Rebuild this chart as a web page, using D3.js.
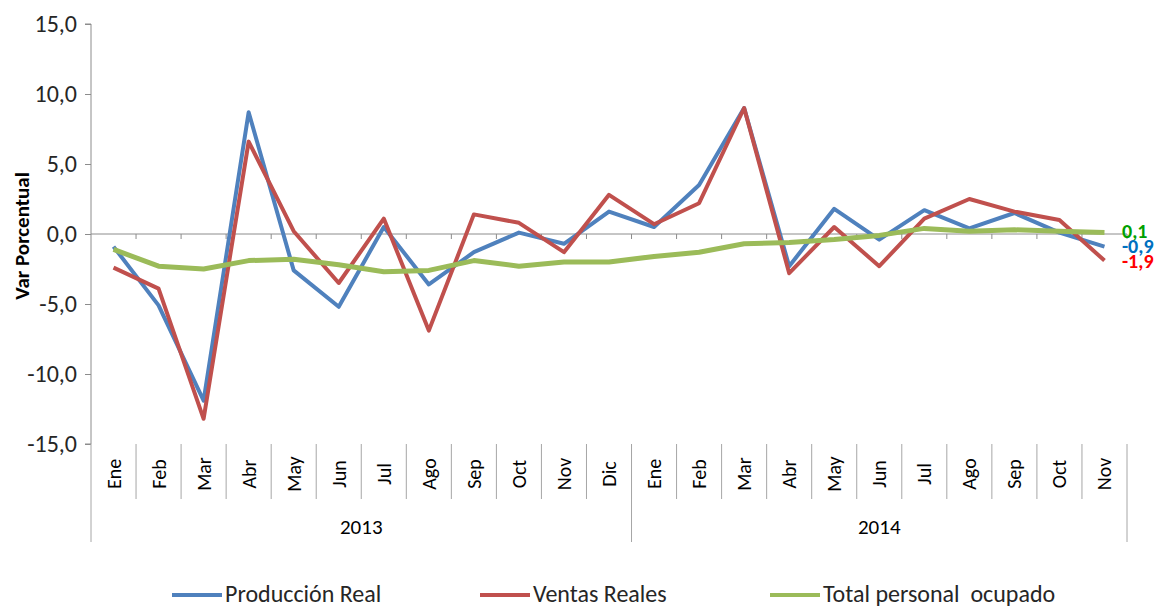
<!DOCTYPE html>
<head>
  <meta charset="utf-8">
  <script src="https://d3js.org/d3.v7.min.js"></script>
  <style>
    body { margin:0; background:#fff; font-family: Calibri, Carlito, "Open Sans", sans-serif; }
    .axis line, .axis path { stroke:#8c8c8c; }
  </style>
</head>
<body>
  <script>
    var months = ["Ene","Feb","Mar","Abr","May","Jun","Jul","Ago","Sep","Oct","Nov","Dic",
                  "Ene","Feb","Mar","Abr","May","Jun","Jul","Ago","Sep","Oct","Nov"];
    var years = [{ label: "2013", n: 12 }, { label: "2014", n: 11 }];

    var produccion = [-0.9,-5.1,-11.9,8.7,-2.6,-5.2,0.5,-3.6,-1.3,0.1,-0.7,1.6,
                      0.5,3.5,9.0,-2.3,1.8,-0.4,1.7,0.4,1.5,0.1,-0.9];
    var ventas = [-2.4,-3.9,-13.2,6.6,0.2,-3.5,1.1,-6.9,1.4,0.8,-1.3,2.8,
                  0.7,2.2,9.0,-2.8,0.5,-2.3,1.1,2.5,1.6,1.0,-1.9];
    var personal = [-1.1,-2.3,-2.5,-1.9,-1.8,-2.2,-2.7,-2.6,-1.9,-2.3,-2.0,-2.0,
                    -1.6,-1.3,-0.7,-0.6,-0.4,-0.1,0.4,0.2,0.3,0.2,0.1];
    var yTicks = [-15,-10,-5,0,5,10,15];

    var series = [
      { name: "Producción Real", values: produccion, color: "#4f81bd", label: "#0070c0", width: 4 },
      { name: "Ventas Reales", values: ventas, color: "#c0504d", label: "#ff0000", width: 4 },
      { name: "Total personal  ocupado", values: personal, color: "#9bbb59", label: "#00a000", width: 5 }
    ];

    var svg = d3.select("body").append("svg")
      .attr("width", 1166)
      .attr("height", 607);

    var x0 = 91, x1 = 1127;
    var x = d3.scaleBand()
      .domain(d3.range(months.length))
      .range([x0, x1]);

    var y = d3.scaleLinear()
      .domain([-15, 15])
      .range([444, 24]);

    var fmt = function(v) { return d3.format(".1f")(v).replace(".", ",").replace("−", "-"); };

    // y axis
    var yaxis = d3.axisLeft(y)
      .tickValues(yTicks)
      .tickSize(6)
      .tickPadding(8)
      .tickFormat(fmt);
    svg.append("g")
      .attr("class", "axis")
      .attr("transform", "translate(" + x0 + ",0)")
      .call(yaxis)
      .call(function(g) {
        g.select(".domain").attr("d", "M-6," + y(15) + "H0V" + y(-15) + "H-6");
        g.selectAll("text").style("font-size", "24px").style("fill", "#262626")
          .style("font-family", "Calibri, Carlito, 'Open Sans', sans-serif");
      });

    // zero line with ticks at category borders
    svg.append("line")
      .attr("x1", x0).attr("x2", x1)
      .attr("y1", y(0)).attr("y2", y(0))
      .style("stroke", "#8c8c8c");
    svg.selectAll(".zt")
      .data(d3.range(1, months.length + 1))
      .enter().append("line")
      .attr("x1", function(i) { return x0 + i * x.step(); })
      .attr("x2", function(i) { return x0 + i * x.step(); })
      .attr("y1", y(0)).attr("y2", y(0) + 5)
      .style("stroke", "#8c8c8c");

    // category dividers under the plot
    svg.selectAll(".div")
      .data(d3.range(1, months.length))
      .enter().append("line")
      .attr("x1", function(i) { return x0 + i * x.step(); })
      .attr("x2", function(i) { return x0 + i * x.step(); })
      .attr("y1", 444).attr("y2", 499)
      .style("stroke", "#a6a6a6");

    var yearEdges = [0];
    years.forEach(function(d) { yearEdges.push(yearEdges[yearEdges.length - 1] + d.n); });
    svg.selectAll(".ydiv")
      .data(yearEdges)
      .enter().append("line")
      .attr("x1", function(i) { return x0 + i * x.step(); })
      .attr("x2", function(i) { return x0 + i * x.step(); })
      .attr("y1", 444).attr("y2", 542)
      .style("stroke", "#a6a6a6");

    svg.selectAll(".month")
      .data(months)
      .enter().append("text")
      .attr("transform", function(d, i) { return "translate(" + (x(i) + x.bandwidth() / 2 + 7) + ",474) rotate(-90)"; })
      .attr("text-anchor", "middle")
      .style("font-size", "20px")
      .style("fill", "#000")
      .text(function(d) { return d; });

    svg.selectAll(".year")
      .data(years)
      .enter().append("text")
      .attr("x", function(d, i) { return x0 + (yearEdges[i] + d.n / 2) * x.step(); })
      .attr("y", 534)
      .attr("text-anchor", "middle")
      .style("font-size", "21px")
      .style("fill", "#000")
      .text(function(d) { return d.label; });

    // axis title
    svg.append("text")
      .attr("transform", "translate(29,236) rotate(-90)")
      .attr("text-anchor", "middle")
      .style("font-size", "21px")
      .style("font-weight", "bold")
      .text("Var Porcentual");

    // lines
    var line = d3.line()
      .x(function(d, i) { return x(i) + x.bandwidth() / 2; })
      .y(function(d) { return y(d); });

    svg.selectAll(".series")
      .data(series)
      .enter().append("path")
      .attr("d", function(d) { return line(d.values); })
      .style("fill", "none")
      .style("stroke", function(d) { return d.color; })
      .style("stroke-width", function(d) { return d.width; })
      .style("stroke-linejoin", "round");

    // end labels
    var labelY = [238, 253, 268];
    var order = [2, 0, 1];
    order.forEach(function(si, k) {
      var s = series[si];
      svg.append("text")
        .attr("x", 1122)
        .attr("y", labelY[k])
        .style("font-size", "20px")
        .style("font-weight", "bold")
        .style("fill", s.label)
        .text(fmt(s.values[s.values.length - 1]));
    });

    // legend
    var legendX = [172, 480, 770];
    var lg = svg.selectAll(".legend")
      .data(series)
      .enter().append("g")
      .attr("transform", function(d, i) { return "translate(" + legendX[i] + ",595)"; });
    lg.append("line")
      .attr("x1", 0).attr("x2", 50)
      .style("stroke", function(d) { return d.color; })
      .style("stroke-width", 4);
    lg.append("text")
      .attr("x", 53)
      .attr("y", 7)
      .style("font-size", "24px")
      .style("fill", "#262626")
      .style("white-space", "pre")
      .text(function(d) { return d.name; });
  </script>
</body>
